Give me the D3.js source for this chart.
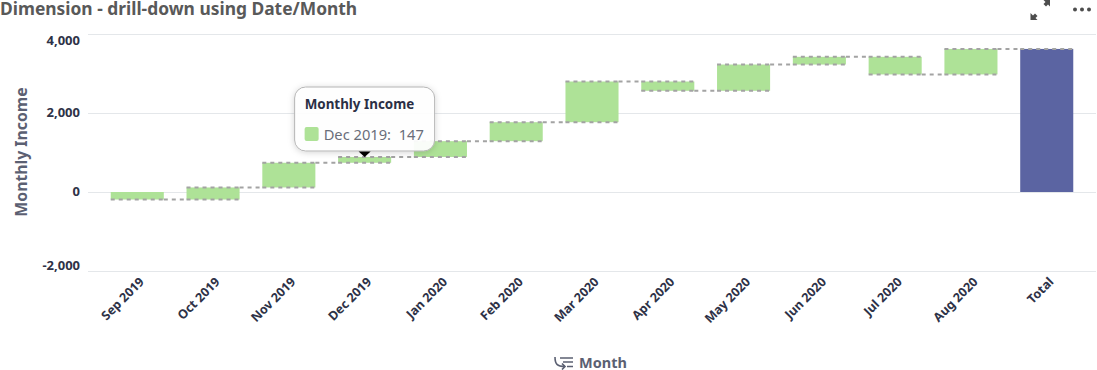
<!DOCTYPE html>
<html>
<head>
    <meta charset="UTF-8">
    <title>Dimension - drill-down using Date/Month</title>
    <script src="https://d3js.org/d3.v7.min.js"></script>
    <style>
        body { margin: 0; background: #fff; }
        text { font-family: "Noto Sans", sans-serif; }
        .grid line { stroke: #e4e7ea; stroke-width: 1; }
        .grid text { font-size: 13px; font-weight: 700; fill: #2e3247; }
        .xaxis text { font-size: 12.5px; font-weight: 700; fill: #2e3247; }
        .dash { stroke: #a3a3a3; stroke-width: 2; stroke-dasharray: 4 4; }
    </style>
</head>
<body>
    <svg id="chart" width="1097" height="370"></svg>
    <script>
        const months = ['Sep 2019', 'Oct 2019', 'Nov 2019', 'Dec 2019', 'Jan 2020', 'Feb 2020',
                        'Mar 2020', 'Apr 2020', 'May 2020', 'Jun 2020', 'Jul 2020', 'Aug 2020'];
        const monthlyIncome = [-190, 305, 625, 147, 400, 480, 1030, -235, 665, 195, -445, 645];
        const totalLabel = 'Total';
        const yTicks = [-2000, 0, 2000, 4000];

        const svg = d3.select('svg#chart');
        const margins = {left: 88, right: 1096, top: 34, bottom: 271};

        const xScale = d3.scaleBand().domain([...months, totalLabel])
                                     .range([margins.left, margins.right])
                                     .padding(0.3);
        const yScale = d3.scaleLinear().domain([-2000, 4000]).range([margins.bottom, margins.top]);

        // running total for the floating bars
        let running = 0;
        const bars = months.map((m, i) => {
            const start = running;
            running += monthlyIncome[i];
            return {name: m, start: start, end: running, total: false};
        });
        bars.push({name: totalLabel, start: 0, end: running, total: true});

        svg.append('text')
           .attr('x', 0).attr('y', 15)
           .style('font-size', '17.4px').style('font-weight', 700).style('fill', '#595959')
           .text('Dimension - drill-down using Date/Month');

        // y axis with gridlines
        const leftAxis = d3.axisLeft(yScale).tickValues(yTicks)
                           .tickSize(-(margins.right - margins.left))
                           .tickPadding(8)
                           .tickFormat(d => d3.format(',')(d).replace('\u2212', '-'));
        const gridG = svg.append('g').attr('class', 'grid')
                         .attr('transform', `translate(${margins.left},0)`)
                         .call(leftAxis);
        gridG.select('.domain').remove();
        gridG.selectAll('text').attr('dy', d => d === 4000 ? '0.8em' : d === -2000 ? '-0.1em' : '0.25em');

        // x axis
        const bottomAxis = d3.axisBottom(xScale).tickSize(0);
        const xG = svg.append('g').attr('class', 'xaxis')
                      .attr('transform', `translate(0,${margins.bottom})`)
                      .call(bottomAxis);
        xG.select('.domain').remove();
        xG.selectAll('text')
          .attr('text-anchor', 'end')
          .attr('dx', '1.75em').attr('dy', '0')
          .attr('transform', 'translate(-10,25) rotate(-45)');

        svg.append('text')
           .attr('transform', 'translate(27,152) rotate(-90)')
           .attr('text-anchor', 'middle')
           .style('font-size', '15.8px').style('font-weight', 700).style('fill', '#5b6072')
           .text('Monthly Income');

        // bars
        svg.selectAll('rect.bar')
           .data(bars)
           .enter()
           .append('rect')
           .attr('class', 'bar')
           .attr('x', d => xScale(d.name))
           .attr('y', d => yScale(Math.max(d.start, d.end)))
           .attr('width', xScale.bandwidth())
           .attr('height', d => Math.abs(yScale(d.start) - yScale(d.end)))
           .style('fill', d => d.total ? '#5b64a2' : '#aee297');

        // dashed edges on each bar, the first one has nothing above it
        const edges = bars.filter(d => !d.total).flatMap((d, i) => (i === 0 ? [d.end] : [d.start, d.end]).map(v => ({name: d.name, v: v})));
        edges.push({name: totalLabel, v: running});
        svg.selectAll('line.edge')
           .data(edges)
           .enter()
           .append('line')
           .attr('class', 'edge dash')
           .attr('x1', d => xScale(d.name))
           .attr('x2', d => xScale(d.name) + xScale.bandwidth())
           .attr('y1', d => yScale(d.v))
           .attr('y2', d => yScale(d.v));

        // connectors to the next bar
        svg.selectAll('line.link')
           .data(bars.slice(0, -1))
           .enter()
           .append('line')
           .attr('class', 'link dash')
           .attr('x1', d => xScale(d.name) + xScale.bandwidth())
           .attr('x2', (d, i) => xScale(bars[i + 1].name))
           .attr('y1', d => yScale(d.end))
           .attr('y2', d => yScale(d.end));

        // tooltip for Dec 2019
        const tipBar = bars[3];
        const tipX = xScale(tipBar.name) + xScale.bandwidth() / 2;
        const defs = svg.append('defs');
        const shadow = defs.append('filter').attr('id', 'tipShadow')
                           .attr('x', '-20%').attr('y', '-20%').attr('width', '140%').attr('height', '140%');
        shadow.append('feDropShadow').attr('dx', 0).attr('dy', 1).attr('stdDeviation', 3)
              .attr('flood-color', '#000').attr('flood-opacity', 0.18);

        const tip = svg.append('g').attr('transform', `translate(${tipX - 70},87)`);
        tip.append('rect')
           .attr('width', 140).attr('height', 64).attr('rx', 11)
           .style('fill', '#fff').style('fill-opacity', 0.93).style('stroke', '#b5b5b5').style('stroke-width', 1)
           .attr('filter', 'url(#tipShadow)');
        tip.append('path').attr('d', 'M64,64.5 L76,64.5 L70,70 Z').style('fill', '#000');
        tip.append('text').attr('x', 10).attr('y', 22)
           .style('font-size', '13.4px').style('font-weight', 700).style('fill', '#2b2f45')
           .text('Monthly Income');
        tip.append('rect').attr('x', 10).attr('y', 40).attr('width', 14).attr('height', 14).attr('rx', 2)
           .style('fill', '#aee297');
        tip.append('text').attr('x', 29).attr('y', 53)
           .style('font-size', '14.7px').style('fill', '#6a6e7a')
           .attr('xml:space', 'preserve')
           .text(`${tipBar.name}:  ${monthlyIncome[3]}`);

        // x axis title with sort icon
        const monthTitle = svg.append('g').attr('transform', 'translate(554,356)');
        monthTitle.append('path')
           .attr('d', 'M1,1 C1,8 3,10.5 11,10.5 M8,7.5 L11,10.5 L8,13.5 M6,2 H19 M9,6 H19 M13,10.5 H19')
           .style('fill', 'none').style('stroke', '#5b6072').style('stroke-width', 1.6);
        monthTitle.append('text').attr('x', 25).attr('y', 12)
           .style('font-size', '14.5px').style('font-weight', 700).style('fill', '#5b6072')
           .text('Month');

        // top right icons
        const icons = svg.append('g').style('fill', '#4d4d4d');
        icons.append('path').attr('d', 'M1030.5,13 L1033,15.5 L1035,13.5 L1037.5,16 L1035.5,18 L1037.5,20 L1030.5,20 Z');
        icons.append('path').attr('d', 'M1050,0 L1050,6.5 L1048,4.5 L1046,6.5 L1043.5,4 L1045.5,2 L1043.5,0 Z');
        icons.selectAll('circle').data([1075, 1082, 1089]).enter().append('circle')
             .attr('cx', d => d).attr('cy', 9.5).attr('r', 2);
    </script>
</body>
</html>
